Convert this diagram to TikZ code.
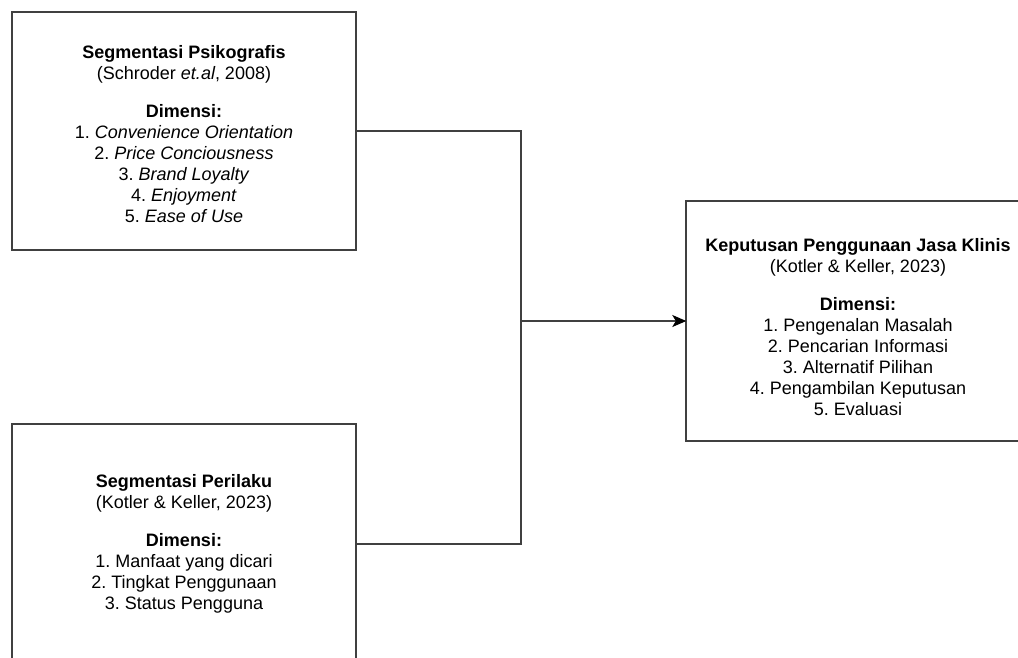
\documentclass[tikz,border=0pt]{standalone}
\usepackage{fontspec}
\setmainfont{Liberation Sans}
\usetikzlibrary{arrows.meta}
\frenchspacing

\tikzset{
  kotak/.style={draw=black!75, line width=1.4pt, rectangle, minimum width=344pt,
    minimum height=240pt, inner sep=0pt, align=center,
    font=\fontsize{18}{21}\selectfont},
  garis/.style={draw=black!75, line width=1.4pt},
}

\begin{document}
\begin{tikzpicture}[x=1pt, y=-1pt]
\useasboundingbox (0,0) rectangle (1018,657);
\clip (0,0) rectangle (1018,657);

% Variabel bebas
\node[kotak, minimum height=238pt] (psiko) at (184, 131) {\rule{0pt}{20pt}\textbf{Segmentasi Psikografis}\\
  (Schroder \textit{et.al}, 2008)\\[17pt]
  \textbf{Dimensi:}\\
  1. \textit{Convenience Orientation}\\
  2. \textit{Price Conciousness}\\
  3. \textit{Brand Loyalty}\\
  4. \textit{Enjoyment}\\
  5. \textit{Ease of Use}};
\node[kotak] (perilaku) at (184, 544) {\textbf{Segmentasi Perilaku}\\
  (Kotler \& Keller, 2023)\\[17pt]
  \textbf{Dimensi:}\\
  1. Manfaat yang dicari\\
  2. Tingkat Penggunaan\\
  3. Status Pengguna};

% Variabel terikat
\node[kotak] (keputusan) at (858, 321) {\rule{0pt}{25pt}\textbf{Keputusan Penggunaan Jasa Klinis}\\
  (Kotler \& Keller, 2023)\\[17pt]
  \textbf{Dimensi:}\\
  1. Pengenalan Masalah\\
  2. Pencarian Informasi\\
  3. Alternatif Pilihan\\
  4. Pengambilan Keputusan\\
  5. Evaluasi};

% Arrows
\coordinate (gabung) at (521, 321);
\draw[garis] (psiko.east) -| (gabung);
\draw[garis] (perilaku.east) -| (gabung);
\draw[garis, -{Stealth[length=14pt, width=12pt, inset=3.5pt, color=black]}, shorten >=-1pt] (gabung) -- (keputusan.west);

\end{tikzpicture}
\end{document}
